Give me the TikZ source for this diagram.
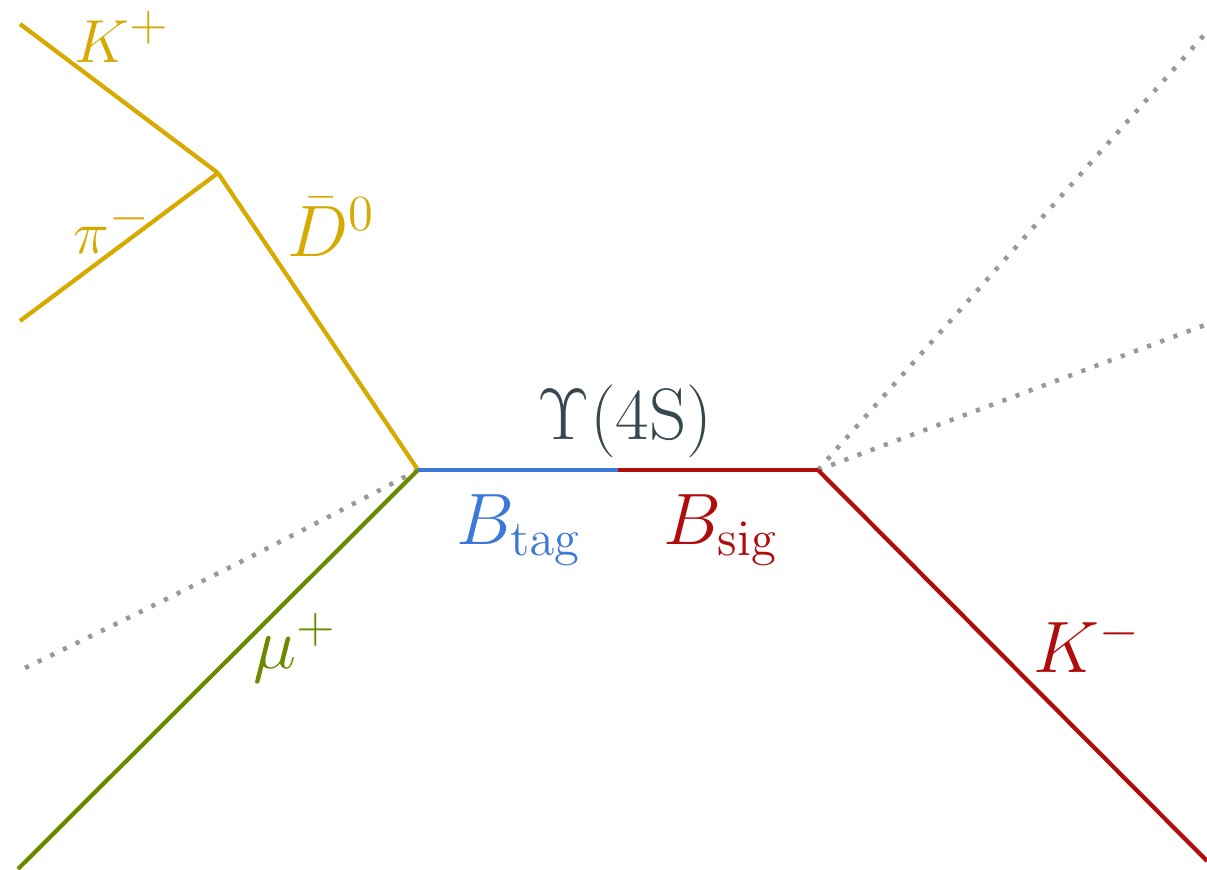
\documentclass[tikz,border=0pt]{standalone}
\usepackage{amsmath}
\usetikzlibrary{positioning}
\definecolor{dmeson}{HTML}{D6AA00}
\definecolor{btag}{HTML}{3C78D8}
\definecolor{bsig}{HTML}{B00C0C}
\definecolor{muon}{HTML}{6A8A00}
\definecolor{nugray}{HTML}{999999}
\definecolor{ink}{HTML}{37474F}
\begin{document}
\begin{tikzpicture}[
  line width=1.2pt, line cap=butt,
  lbl/.style={inner sep=0pt, font=\fontsize{#1}{24}\selectfont},
  lbl/.default=19,
  trk/.style={line width=1.2pt},
  miss/.style={draw=nugray, line width=1.3pt, dash pattern=on 1.2pt off 2.8pt}]
  \useasboundingbox (0,0) rectangle (12.07,8.69);
  \coordinate (tagvtx) at (4.18,3.99);
  \coordinate (ups) at (6.18,3.99);
  \coordinate (sigvtx) at (8.18,3.99);
  \coordinate (dvtx) at (2.18,6.96);
  \coordinate (kplus) at (0.20,8.45);
  \coordinate (piminus) at (0.20,5.48);
  \coordinate (muend) at (0.18,0.00);
  \coordinate (kminus) at (12.07,0.08);
  \coordinate (nutag) at (0.25,2.01);
  \coordinate (nusig1) at (12.05,8.35);
  \coordinate (nusig2) at (12.05,5.44);
  \draw[miss] (tagvtx) to[bend left=1] (nutag);
  \draw[miss] (sigvtx) -- (nusig1);
  \draw[miss] (sigvtx) -- (nusig2);
  \draw[trk, dmeson] (tagvtx) -- (dvtx);
  \draw[trk, dmeson] (dvtx) -- (kplus);
  \draw[trk, dmeson] (dvtx) -- (piminus);
  \draw[trk, muon] (tagvtx) -- (muend);
  \draw[trk, btag] (tagvtx) -- (ups);
  \draw[trk, bsig] (ups) -- (sigvtx);
  \draw[trk, bsig] (sigvtx) -- (kminus);
  \node[lbl, dmeson] (kpluslbl) at (1.22,8.32) {$K^+$};
  \node[lbl, dmeson] (pilbl) at (1.12,6.41) {$\pi^-$};
  \node[lbl=20.5, dmeson] (dlbl) at (3.31,6.42) {$\bar{D}^0$};
  \node[lbl=22, ink] (upslbl) at (6.25,4.48) {$\Upsilon(4\mathrm{S})$};
  \node[lbl=20, btag] (taglbl) at (5.19,3.39) {$B_{\mathrm{tag}}$};
  \node[lbl=20, bsig] (siglbl) at (7.21,3.39) {$B_{\mathrm{sig}}$};
  \node[lbl=20, muon] (mulbl) at (2.95,2.21) {$\mu^+$};
  \node[lbl=21.5, bsig] (kminuslbl) at (10.87,2.24) {$K^-$};
\end{tikzpicture}
\end{document}
